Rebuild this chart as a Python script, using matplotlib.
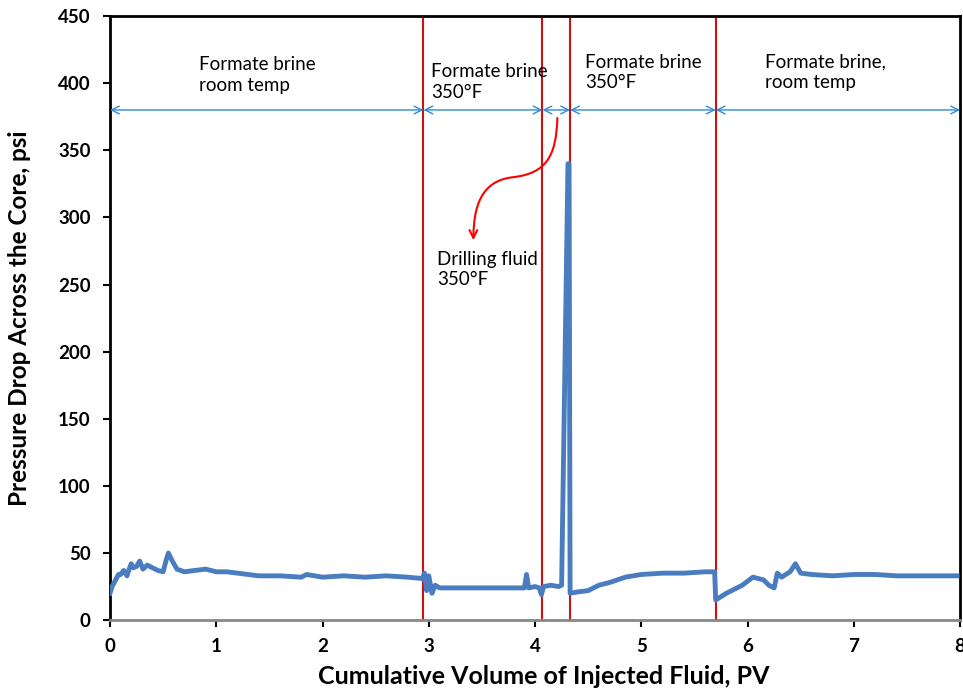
import numpy as np
import matplotlib.pyplot as plt
from matplotlib.path import Path
from matplotlib.patches import FancyArrowPatch

plt.rcParams['font.family'] = ['Lato', 'DejaVu Sans']

# pressure drop trace
pv = [0.00, 0.02, 0.04, 0.06, 0.08, 0.10, 0.13, 0.16, 0.18, 0.20, 0.22, 0.25, 0.28,
      0.31, 0.35, 0.40, 0.45, 0.50, 0.53, 0.55, 0.58, 0.63, 0.70, 0.80, 0.90, 1.00,
      1.10, 1.20, 1.30, 1.40, 1.60, 1.80, 1.85, 2.00, 2.20, 2.40, 2.60, 2.80, 2.94,
      2.96, 2.98, 3.00, 3.03, 3.06, 3.10, 3.30, 3.50, 3.70, 3.90, 3.92, 3.94, 4.00,
      4.04, 4.06, 4.08, 4.15, 4.22, 4.25, 4.31, 4.32, 4.33, 4.40, 4.50, 4.60, 4.70,
      4.85, 5.00, 5.20, 5.40, 5.60, 5.69, 5.70, 5.80, 5.95, 6.05, 6.15, 6.20, 6.25,
      6.28, 6.32, 6.40, 6.45, 6.50, 6.60, 6.80, 7.00, 7.20, 7.40, 7.60, 7.80, 7.97]
dp = [20, 25, 28, 31, 34, 34, 37, 33, 38, 42, 39, 40, 44,
      38, 41, 39, 37, 36, 45, 50, 45, 38, 36, 37, 38, 36,
      36, 35, 34, 33, 33, 32, 34, 32, 33, 32, 33, 32, 31,
      35, 22, 33, 20, 26, 24, 24, 24, 24, 24, 34, 24, 25,
      24, 19, 25, 26, 25, 26, 340, 340, 20, 21, 22, 26, 28,
      32, 34, 35, 35, 36, 36, 15, 20, 26, 32, 30, 26, 24,
      35, 32, 36, 42, 35, 34, 33, 34, 34, 33, 33, 33, 33]

stage_bounds = [0, 2.95, 4.07, 4.33, 5.70, 8]
stage_lines = [2.95, 4.07, 4.33, 5.70]
arrow_level = 380

labels = ["Formate brine\nroom temp", "Formate brine\n350°F", "Formate brine\n350°F",
          "Formate brine,\nroom temp"]
label_x = [0.84, 3.02, 4.47, 6.16]
label_y = [406, 401, 408, 408]

fig = plt.figure(figsize=(9.63, 6.96), dpi=100)
ax = fig.add_axes([0.1142, 0.109, 0.8828, 0.868])

ax.plot(pv, dp, color='#4a7dbf', lw=3.5, solid_joinstyle='round', zorder=3)

for x in stage_lines:
    ax.axvline(x, color='#cc1111', lw=1.5, zorder=2)

for a, b in zip(stage_bounds[:-1], stage_bounds[1:]):
    ax.annotate("", xy=(b, arrow_level), xytext=(a, arrow_level),
                arrowprops=dict(arrowstyle='<->', color='#2f8bd6', lw=1,
                                shrinkA=0, shrinkB=0, mutation_scale=14))

for t, x, y in zip(labels, label_x, label_y):
    ax.text(x, y, t, fontsize=13.5, ha='left', va='center', linespacing=1.25)

ax.text(3.08, 261, "Drilling fluid\n350°F", fontsize=13.5, ha='left', va='center',
        linespacing=1.25)

curve = Path([(4.21, 374), (4.20, 345), (4.10, 333), (3.80, 330),
              (3.55, 328), (3.42, 315), (3.42, 283)],
             [Path.MOVETO, Path.CURVE4, Path.CURVE4, Path.CURVE4,
              Path.CURVE4, Path.CURVE4, Path.CURVE4])
ax.add_patch(FancyArrowPatch(path=curve, arrowstyle='->', color='red', lw=1.5,
                             mutation_scale=14))

ax.set_xlim(0, 8)
ax.set_ylim(0, 450)
ax.set_xticks(range(0, 9))
ax.set_yticks(range(0, 451, 50))
ax.tick_params(direction='out', length=5, width=1.5, labelsize=13.5)
ax.tick_params(axis='x', pad=8)
ax.tick_params(axis='y', pad=9)
for lab in ax.get_xticklabels() + ax.get_yticklabels():
    lab.set_fontweight('bold')
for s in ax.spines.values():
    s.set_linewidth(2)
ax.spines['bottom'].set_color('#888888')

ax.set_xlabel("Cumulative Volume of Injected Fluid, PV", fontsize=18, fontweight='bold')
ax.set_ylabel("Pressure Drop Across the Core, psi", fontsize=17.5, fontweight='bold')
ax.xaxis.set_label_coords(0.51, -0.075)
ax.yaxis.set_label_coords(-0.093, 0.5)

fig.savefig("out.png", dpi=100)
